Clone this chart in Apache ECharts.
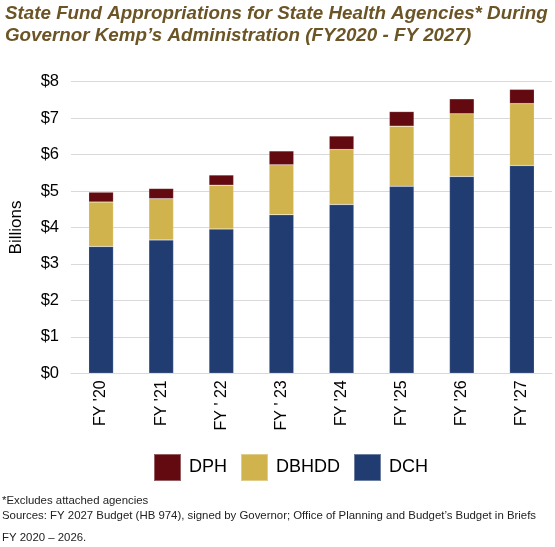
<!DOCTYPE html>
<html>
<head>
    <meta charset="utf-8">
    <title>State Health Agencies</title>
    <script src="https://cdn.jsdelivr.net/npm/echarts@6/dist/echarts.min.js"></script>
    <style>
        html, body { margin: 0; padding: 0; background: #fff; }
        #chart { width: 555px; height: 547px; }
    </style>
</head>
<body>
<div id="chart"></div>
<script type="text/javascript">
    // fiscal years
    var years = ["FY '20", "FY '21", "FY ' 22", "FY ' 23", "FY '24", "FY '25", "FY '26", "FY '27"];
    // billions of dollars
    var dch = [3.48, 3.66, 3.96, 4.35, 4.63, 5.13, 5.40, 5.70];
    var dbhdd = [1.22, 1.13, 1.20, 1.37, 1.51, 1.65, 1.72, 1.70];
    var dph = [0.27, 0.28, 0.28, 0.38, 0.37, 0.40, 0.41, 0.39];

    var font = 'Arial, "Liberation Sans", sans-serif';
    var myChart = echarts.init(document.getElementById('chart'));

    function bar(name, data, color) {
        return {
            name: name,
            type: 'bar',
            stack: 'total',
            data: data,
            barWidth: '41%',
            itemStyle: {color: color, borderColor: 'rgba(255,255,255,0.35)', borderWidth: 0.5}
        };
    }

    myChart.setOption({
        animation: false,
        textStyle: {fontFamily: font},
        title: [{
            text: 'State Fund Appropriations for State Health Agencies* During\nGovernor Kemp\u2019s Administration (FY2020 - FY 2027)',
            left: 5,
            top: 3,
            padding: 0,
            textStyle: {
                fontFamily: font, fontSize: 18.8, fontWeight: 'bold', fontStyle: 'italic',
                color: '#6b5425', lineHeight: 22
            }
        }, {
            text: '*Excludes attached agencies\nSources: FY 2027 Budget (HB 974), signed by Governor; Office of Planning and Budget\u2019s Budget in Briefs',
            left: 2,
            top: 493,
            padding: 0,
            textStyle: {fontFamily: font, fontSize: 11.4, fontWeight: 'normal', color: '#222', lineHeight: 15}
        }, {
            text: 'FY 2020 \u2013 2026.',
            left: 2,
            top: 532,
            padding: 0,
            textStyle: {fontFamily: font, fontSize: 11.4, fontWeight: 'normal', color: '#222'}
        }],
        legend: {
            data: ['DPH', 'DBHDD', 'DCH'],
            left: 153,
            top: 453,
            padding: 0,
            itemWidth: 27,
            itemHeight: 27,
            itemGap: 13,
            icon: 'rect',
            textStyle: {fontFamily: font, fontSize: 18, color: '#000', padding: [0, 0, 0, 3]}
        },
        grid: {left: 69, right: 3, top: 81.7, bottom: 173.7},
        xAxis: {
            type: 'category',
            data: years,
            axisLine: {lineStyle: {color: '#d9d9d9', width: 1}},
            axisTick: {show: false},
            axisLabel: {rotate: 90, fontSize: 16, color: '#000', margin: 7, fontFamily: font, padding: [0, 0, 9, 0]}
        },
        yAxis: {
            type: 'value',
            min: 0,
            max: 8,
            interval: 1,
            name: 'Billions',
            nameLocation: 'middle',
            nameGap: 46,
            nameTextStyle: {fontSize: 17, color: '#000', fontFamily: font},
            axisLine: {show: false},
            axisTick: {show: false},
            axisLabel: {formatter: '${value}', fontSize: 16.5, color: '#000', margin: 12, fontFamily: font},
            splitLine: {lineStyle: {color: '#d9d9d9', width: 1}}
        },
        series: [
            bar('DCH', dch, '#213c71'),
            bar('DBHDD', dbhdd, '#d1b34e'),
            bar('DPH', dph, '#620a10')
        ]
    });
</script>
</body>
</html>
